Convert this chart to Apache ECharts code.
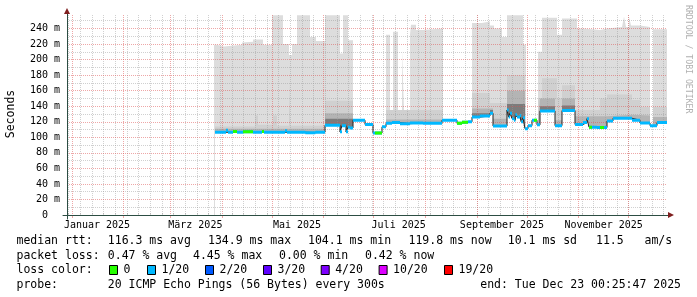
<!DOCTYPE html>
<html><head><meta charset="utf-8">
<script src="https://cdn.jsdelivr.net/npm/echarts@6/dist/echarts.min.js"></script>
<style>html,body{margin:0;padding:0;background:#fff}#c{width:697px;height:297px}</style>
</head><body><div id="c"></div>
<script>
// ---------------- DATA (x = days since 1 Jan 2025) ----------------
const xStartDay = -3, xEndDay = 357;
const monthStartDays = [0,31,59,90,120,151,181,212,243,273,304,334];
const weekDays = [-2,5,12,19,26,33,40,47,54,61,68,75,82,89,96,103,110,117,124,131,138,145,152,159,166,173,180,187,194,201,208,215,222,229,236,243,250,257,264,271,278,285,292,299,306,313,320,327,334,341,348,355];
const monthLabelDays = [15,74,135,196,258,319];
const monthLabels = ['Januar 2025','März 2025','Mai 2025','Juli 2025','September 2025','November 2025'];
const yMajorTicks = [0,20,40,60,80,100,120,140,160,180,200,220,240];
const yMinorTicks = [10,30,50,70,90,110,130,150,170,190,210,230,250];
const yMax = 257.4;

// median rtt (ms), step points [day, value]
const medianRtt = [
 [85.8,106.5],[92.4,109],[93.6,106.5],[96.6,107.5],[99,106.5],[102.6,107],[108.6,106.5],[114,107.5],[115.2,106.5],
 [127.8,108.5],[129,106.5],[140,106],[146,106.5],[151.8,115.5],[160.8,107],[162,115],[164.4,107],[165.6,113],[166.8,112],
 [168.6,122],[175.8,116.5],[180.6,105.5],[186,113.5],[188.4,118],[192,119],[196.8,117.5],[202.8,118.5],[210.6,118],
 [222,122],[231,118],[234,119.5],[237.6,120],[240,126],[244.8,127.5],[250.8,131],[252.6,114.5],
 [261,135],[262,126],[262.8,131],[264,124],[265.2,122],[266,129],[267,126],[268.8,128],[269.5,120],[270.6,125],
 [271.8,111],[273.6,115],[276,122],[279,116],[280.8,134],[289.8,115],[294,134.5],[301.8,116.5],[306.6,119],[309,124],
 [310.2,113],[315,112.5],[321,121],[324.6,124.5],[336,122],[340.8,118.5],[346.8,115],[351,119],[357,119]
];
// spans with 0 packet loss: [fromDay, toDay, median]
const zeroLossSpans = [[96.6,99,107.5],[102.6,108.6,107],[114,115.2,107.5],[181.8,186,105.5],[231,234,118],[234,237.6,119.5],[277.2,279,122],[310.2,312,113],[316.8,319.2,112.5]];

// smoke layers (upper edge, ms); null = no data from this day
const smokeMax = [
 [85.2,219],[87,217],[91.2,219],[102,222],[102.6,223],[108.6,226],[114.6,219],[120,257],[126.6,220],[130.2,206],[132,220],
 [135,257],[142.8,229],[146.4,224],[151.8,257],[160.8,208],[162.6,257],[165.6,225],[168.6,null],
 [188.4,232],[190.8,135],[192.6,236],[195.6,135],[198,212],[199.2,135],[202.8,232],[203.4,245],[206.4,238],[210.6,240],[222.6,null],
 [240,247],[246,249],[250.8,244],[253.2,240],[258,229],[261,257],[270.6,219],[272.4,null],
 [279.6,210],[282,254],[291,232],[294,253],[303,240],[306.6,238],[316.8,240],[321,242],[330,244],[331.2,255],[332.4,242],
 [334.2,255],[335.4,244],[340.8,242],[346.8,null],[348.6,239],[357,239]
];
const smokeMid = [
 [85.8,114],[109.8,128],[111.6,116],[120.6,128],[123,115],[130.2,170],[131,115],[151.8,147],[168.6,null],
 [188.4,135],[222.6,null],[240,157],[250.8,144],[261,180],[271.8,135],[272.4,null],
 [279.6,150],[282,176],[291,150],[294,167],[301.8,135],[316.8,150],[321,155],[336,148],[340.8,139],[346.8,null],[348.6,139],[357,139]
];
const smokeCore = [
 [85.8,111],[151.8,131],[168.6,null],[188.4,123],[222.6,null],[240,137],[252.6,124],[261,160],[271.8,120],[272.4,null],
 [279.6,121],[280.8,150],[289.8,122],[294,150],[301.8,127],[321,129],[336,128],[346.8,null],[348.6,126],[357,126]
];
const smokeDark = [
 [151.8,124],[168.6,null],[240,131],[250.8,135],[252.6,null],[261,143],[271.8,null],[280.8,140],[289.8,null],[294,141],[301.8,null]
];

// legend texts
const rttStats = ['116.3 ms avg','134.9 ms max','104.1 ms min','119.8 ms now','10.1 ms sd','11.5','am/s'];
const lossStats = ['0.47 % avg','4.45 % max','0.00 % min','0.42 % now'];
const lossLabels = ['0','1/20','2/20','3/20','4/20','10/20','19/20'];
const lossColors = ['#26ff00','#00b8ff','#0059ff','#5e00ff','#7e00ff','#dd00ff','#ff0000'];
const probeText = '20 ICMP Echo Pings (56 Bytes) every 300s';
const endText = 'end: Tue Dec 23 00:25:47 2025';

// ---------------- BUILD ----------------
function stepData(pts){
  const out=[];
  for(let i=0;i<pts.length;i++){
    const d=pts[i][0], v=pts[i][1];
    if(v==null){ if(i>0 && pts[i-1][1]!=null) out.push([d,pts[i-1][1]]); out.push([d,'-']); }
    else out.push([d,v]);
  }
  return out;
}
function horizSegs(pts){
  const out=[];
  for(let i=0;i<pts.length-1;i++){ out.push([pts[i][0],pts[i][1]],[pts[i+1][0],pts[i][1]],[pts[i+1][0],'-']); }
  return out;
}
function spanSegs(spans){
  const out=[];
  spans.forEach(s=>{ out.push([s[0],s[2]],[s[1],s[2]],[s[1],'-']); });
  return out;
}
const FONT='DejaVu Sans Mono';
const MGRID='rgba(222,80,80,0.5)', GRID='rgba(150,150,150,0.45)';

function area(name,pts,color){
  return {name,type:'line',step:'end',data:stepData(pts),showSymbol:false,symbol:'none',z:1,
    lineStyle:{width:0,color},areaStyle:{color,opacity:1,origin:'start'},itemStyle:{color},animation:false,silent:true};
}

const series=[
  area('max',smokeMax,'#dddddd'),
  area('mid',smokeMid,'#d0d0d0'),
  area('core',smokeCore,'#b4b4b4'),
  area('dark',smokeDark,'#7c7c7c'),
  area('floor',medianRtt,'#ffffff'),
  {name:'median',type:'line',step:'end',data:medianRtt,showSymbol:false,symbol:'none',z:4,lineStyle:{width:1,color:'#202020'},animation:false},
  {name:'loss 1/20',type:'line',data:horizSegs(medianRtt),showSymbol:false,symbol:'none',z:5,lineStyle:{width:3,color:lossColors[1]},animation:false},
  {name:'loss 0',type:'line',data:spanSegs(zeroLossSpans),showSymbol:false,symbol:'none',z:6,lineStyle:{width:3,color:lossColors[0]},animation:false}
];

const txt=(x,y,text,extra)=>Object.assign({type:'text',x,y,style:{text,font:'11.5px "'+FONT+'"',fill:'#000',align:'left',verticalAlign:'middle'}},extra||{});
const graphic=[];
// legend layout
const L1=241,L2=256,L3=270,L4=285, colA=16.5, colB=107.8;
graphic.push(txt(colA,L1,'median rtt:'));
const rttX=[107.8,208,308,408.5,507.8,596,644.5];
rttStats.forEach((t,i)=>graphic.push(txt(rttX[i],L1,t)));
graphic.push(txt(colA,L2,'packet loss:'));
const lossX=[107.8,193,279,365];
lossStats.forEach((t,i)=>graphic.push(txt(lossX[i],L2,t)));
graphic.push(txt(colA,L3,'loss color:'));
const boxX=[109,147,205,263,320.7,378.6,444];
lossLabels.forEach((t,i)=>{
  graphic.push({type:'rect',shape:{x:boxX[i]+0.5,y:L3-4.5,width:8,height:9},style:{fill:lossColors[i],stroke:'#000',lineWidth:1}});
  graphic.push(txt(boxX[i]+14.5,L3,t));
});
graphic.push(txt(colA,L4,'probe:'));
graphic.push(txt(colB,L4,probeText));
graphic.push(txt(681,L4,endText,{style:{text:endText,font:'11.5px "'+FONT+'"',fill:'#000',align:'right',verticalAlign:'middle'}}));
graphic.push({type:'text',x:11,y:114,rotation:Math.PI/2,style:{text:'Seconds',font:'11.5px "'+FONT+'"',fill:'#000',align:'center',verticalAlign:'middle'}});
graphic.push({type:'text',x:688.5,y:5,rotation:-Math.PI/2,style:{text:'RRDTOOL / TOBI OETIKER',font:'8.2px "'+FONT+'"',fill:'#b0b0b0',align:'left',verticalAlign:'middle'}});

const lbl={fontFamily:FONT,fontSize:10,color:'#000'};
const option={
  animation:false,
  backgroundColor:'#ffffff',
  grid:[
    {left:67,top:15,width:600,height:200},
    {left:63,top:11,width:608,height:208},
    {left:63,top:11,width:608,height:208}
  ],
  xAxis:[
    {type:'value',gridIndex:0,min:xStartDay,max:xEndDay,z:3,axisLine:{show:false},
     axisTick:{show:true,customValues:monthStartDays,length:3,lineStyle:{color:MGRID}},
     axisLabel:Object.assign({customValues:monthLabelDays,margin:5,formatter:v=>monthLabels[monthLabelDays.indexOf(v)]},lbl),
     splitLine:{show:true,lineStyle:{color:MGRID,width:1,type:[1,1]}}},
    {type:'value',gridIndex:0,min:xStartDay,max:xEndDay,z:2,axisLine:{show:false},
     axisTick:{show:true,customValues:weekDays,length:2,lineStyle:{color:GRID}},axisLabel:{show:false},
     splitLine:{show:true,lineStyle:{color:GRID,width:1,type:[1,1]}}},
    {type:'value',gridIndex:1,min:-4,max:604,z:5,axisLine:{show:true,onZero:true,lineStyle:{color:'#2c4d43',width:1}},axisTick:{show:false},axisLabel:{show:false},splitLine:{show:false}},
    {type:'value',gridIndex:2,min:-4,max:604,z:6,axisLine:{show:true,onZero:true,symbol:['none','triangle'],symbolSize:[6,6],lineStyle:{color:'#7f1f1f',width:0}},axisTick:{show:false},axisLabel:{show:false},splitLine:{show:false}}
  ],
  yAxis:[
    {type:'value',gridIndex:0,min:0,max:yMax,z:3,axisLine:{show:false},
     axisTick:{show:false,customValues:yMajorTicks},
     axisLabel:Object.assign({customValues:yMajorTicks,margin:7,formatter:v=>v===0?'0  ':v+' m'},lbl),
     splitLine:{show:true,lineStyle:{color:MGRID,width:1,type:[1,1]}}},
    {type:'value',gridIndex:0,min:0,max:yMax,z:2,axisLine:{show:false},
     axisTick:{show:false,customValues:yMinorTicks},axisLabel:{show:false},
     splitLine:{show:true,lineStyle:{color:GRID,width:1,type:[1,1]}}},
    {type:'value',gridIndex:1,min:-4,max:204,z:5,axisLine:{show:true,onZero:true,lineStyle:{color:'#2c4d43',width:1}},axisTick:{show:false},axisLabel:{show:false},splitLine:{show:false}},
    {type:'value',gridIndex:2,min:-4,max:204,z:6,axisLine:{show:true,onZero:true,symbol:['none','triangle'],symbolSize:[6,6],lineStyle:{color:'#7f1f1f',width:0}},axisTick:{show:false},axisLabel:{show:false},splitLine:{show:false}}
  ],
  series:series.map(s=>Object.assign({xAxisIndex:0,yAxisIndex:0},s)),
  graphic:graphic
};
const chart=echarts.init(document.getElementById('c'),null,{renderer:'canvas'});
chart.setOption(option);
</script></body></html>
